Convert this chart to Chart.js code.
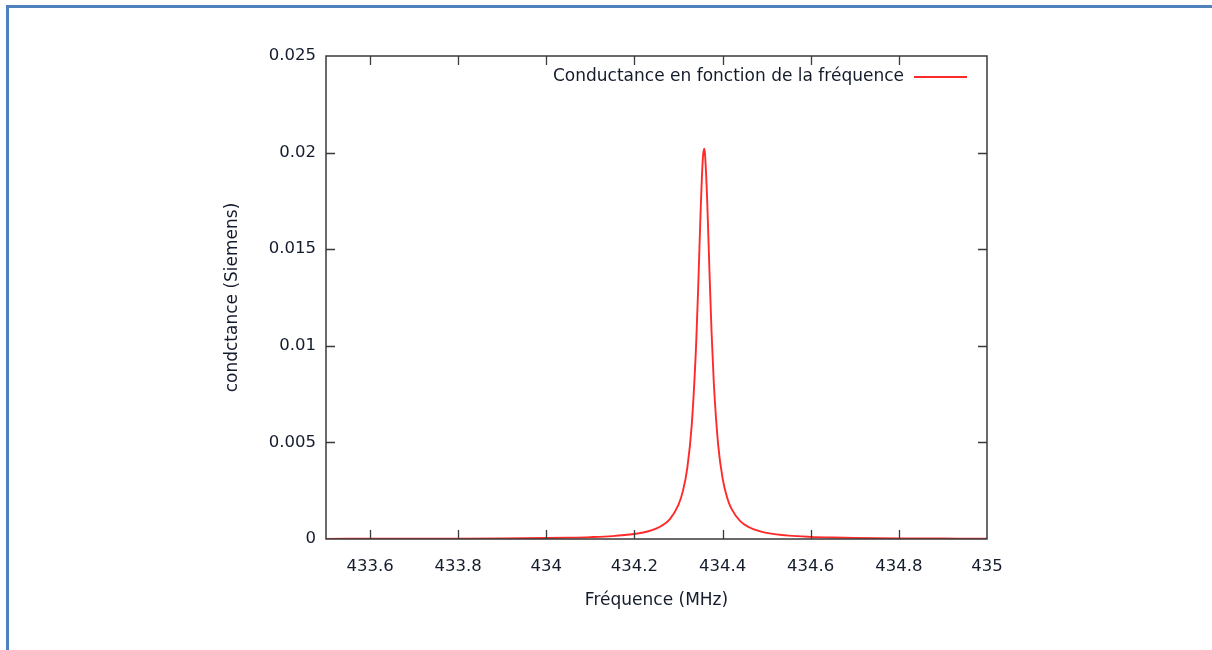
<!DOCTYPE html>
<html>
<head>
<meta charset="utf-8">
<script src="https://cdn.jsdelivr.net/npm/chart.js@4.4.1/dist/chart.umd.min.js"></script>
<style>
    html, body { margin: 0; padding: 0; background: #fff; }
    #wrap { position: relative; width: 1212px; height: 650px; overflow: hidden; }
    #frame {
        position: absolute; left: 6px; top: 5px; width: 1300px; height: 700px;
        border-left: 3px solid #4f81bd; border-top: 3px solid #4f81bd;
        box-sizing: border-box; pointer-events: none;
    }
    canvas { position: absolute; left: 0; top: 0; }
</style>
</head>
<body>
<div id="wrap">
    <canvas id="chart" width="1212" height="650"></canvas>
    <div id="frame"></div>
</div>
<script>
// Data (frequency in MHz, conductance in S)
const frequencies = [
    433.5, 433.6, 433.7, 433.8, 433.9, 434.0, 434.05, 434.1, 434.15, 434.2,
    434.22, 434.24, 434.26, 434.28, 434.3, 434.31, 434.32, 434.33, 434.34, 434.345,
    434.35, 434.355, 434.358, 434.36, 434.365, 434.37, 434.375, 434.38, 434.39, 434.4,
    434.41, 434.42, 434.44, 434.46, 434.48, 434.5, 434.55, 434.6, 434.65, 434.7,
    434.8, 434.9, 435.0
];
const conductance = [
    0.0000089, 0.0000114, 0.0000151, 0.000021, 0.0000312, 0.0000509, 0.0000688, 0.0000979, 0.00015, 0.000259,
    0.000338, 0.000459, 0.00066, 0.00102, 0.00178, 0.00249, 0.0037, 0.00591, 0.0101, 0.01328,
    0.01687, 0.01965, 0.0202, 0.01995, 0.01755, 0.01399, 0.01068, 0.0081, 0.00486, 0.00314,
    0.00216, 0.00157, 0.000929, 0.00061, 0.000431, 0.00032, 0.000176, 0.000111, 0.0000765, 0.0000558,
    0.0000334, 0.0000222, 0.0000159
];
const xTicks = [433.6, 433.8, 434, 434.2, 434.4, 434.6, 434.8, 435];
const yTicks = [0, 0.005, 0.01, 0.015, 0.02, 0.025];
const seriesLabel = 'Conductance en fonction de la fréquence';

const FONT = 'DejaVu Sans';
const TEXT = '#141c2c';

// gnuplot-like frame: box around the plot, inward ticks on all four sides, legend inside
const gnuplotFrame = {
    id: 'gnuplotFrame',
    afterDatasetsDraw(chart) {
        const ctx = chart.ctx;
        const a = chart.chartArea;
        const xs = chart.scales.x;
        const ys = chart.scales.y;
        ctx.save();
        ctx.strokeStyle = '#3a3a3a';
        ctx.lineWidth = 1.5;
        ctx.strokeRect(a.left, a.top, a.right - a.left, a.bottom - a.top);

        ctx.lineWidth = 1.3;
        ctx.beginPath();
        xTicks.forEach(v => {
            const px = Math.round(xs.getPixelForValue(v)) + 0.5;
            if (px > a.right - 2) return;
            ctx.moveTo(px, a.bottom); ctx.lineTo(px, a.bottom - 9);
            ctx.moveTo(px, a.top); ctx.lineTo(px, a.top + 9);
        });
        yTicks.forEach(v => {
            const py = Math.round(ys.getPixelForValue(v)) + 0.5;
            if (py < a.top + 2 || py > a.bottom - 2) return;
            ctx.moveTo(a.left, py); ctx.lineTo(a.left + 9, py);
            ctx.moveTo(a.right, py); ctx.lineTo(a.right - 9, py);
        });
        ctx.stroke();

        // legend
        const ds = chart.data.datasets[0];
        const ly = a.top + 21;
        ctx.font = '17px "' + FONT + '"';
        ctx.fillStyle = TEXT;
        ctx.textAlign = 'right';
        ctx.textBaseline = 'middle';
        ctx.fillText(ds.label, a.right - 83, ly);
        ctx.strokeStyle = ds.borderColor;
        ctx.lineWidth = 1.8;
        ctx.beginPath();
        ctx.moveTo(a.right - 73, ly);
        ctx.lineTo(a.right - 20, ly);
        ctx.stroke();
        ctx.restore();
    }
};

const points = frequencies.map((f, i) => ({ x: f, y: conductance[i] }));

new Chart(document.getElementById('chart').getContext('2d'), {
    type: 'line',
    data: {
        datasets: [{
            label: seriesLabel,
            data: points,
            borderColor: '#ff2a2a',
            borderWidth: 1.9,
            pointRadius: 0,
            fill: false,
            cubicInterpolationMode: 'monotone'
        }]
    },
    options: {
        responsive: false,
        animation: false,
        layout: { padding: { left: 218, top: 56, right: 225, bottom: 35 } },
        plugins: {
            legend: { display: false },
            tooltip: { enabled: false }
        },
        scales: {
            x: {
                type: 'linear',
                min: 433.5,
                max: 435,
                afterBuildTicks: s => { s.ticks = xTicks.map(v => ({ value: v })); },
                afterFit: s => { s.height = 76; },
                grid: { display: false },
                border: { display: false },
                ticks: {
                    padding: 10,
                    color: TEXT,
                    font: { family: FONT, size: 16.5 },
                    maxRotation: 0,
                    callback: v => String(v)
                },
                title: {
                    display: true,
                    text: 'Fréquence (MHz)',
                    color: TEXT,
                    font: { family: FONT, size: 17 },
                    padding: { top: 0, bottom: 4 }
                }
            },
            y: {
                type: 'linear',
                min: 0,
                max: 0.025,
                afterBuildTicks: s => { s.ticks = yTicks.map(v => ({ value: v })); },
                afterFit: s => { s.width = 108; },
                grid: { display: false },
                border: { display: false },
                ticks: {
                    padding: 2,
                    color: TEXT,
                    font: { family: FONT, size: 16.5 },
                    callback: v => String(v)
                },
                title: {
                    display: true,
                    text: 'condctance (Siemens)',
                    color: TEXT,
                    font: { family: FONT, size: 17 },
                    padding: { top: 4, bottom: 0 }
                }
            }
        }
    },
    plugins: [gnuplotFrame]
});
</script>
</body>
</html>
